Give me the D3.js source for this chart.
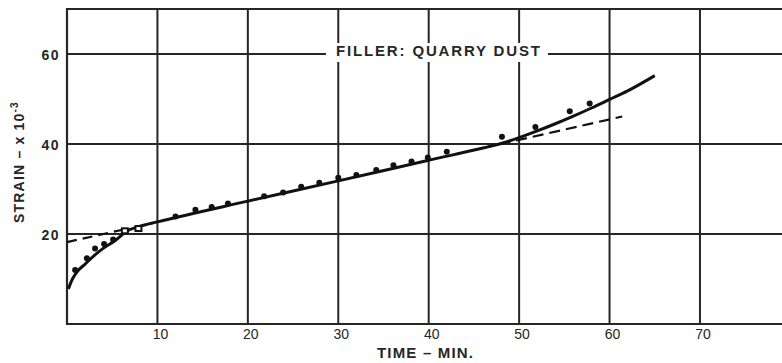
<!DOCTYPE html>
<html>
<head>
<meta charset="utf-8">
<script src="https://cdn.jsdelivr.net/npm/d3@7"></script>
<style>
  body { margin: 0; background: #fff; }
  svg { display: block; font-family: "Liberation Sans", Arial, sans-serif; }
</style>
</head>
<body>
<svg id="chart" width="782" height="363"></svg>
<script>
// values (time in minutes, strain x 10^-3)
var xTicks = [10, 20, 30, 40, 50, 60, 70];
var yTicks = [20, 40, 60];

var dotTime   = [0.9, 2.2, 3.1, 4.1, 5.1, 12, 14.2, 16, 17.8, 21.8, 23.9, 25.9, 27.9, 30, 32, 34.2, 36.1, 38.1, 39.9, 42, 48.1, 51.8, 55.6, 57.8];
var dotStrain = [12.0, 14.6, 16.8, 17.8, 18.8, 23.9, 25.4, 26.0, 26.8, 28.4, 29.2, 30.5, 31.4, 32.5, 33.1, 34.2, 35.3, 36.1, 37.0, 38.3, 41.6, 43.8, 47.3, 49.0];

var squareTime   = [6.4, 7.9];
var squareStrain = [20.6, 21.1];

var curveTime   = [0.15, 0.6, 1.2, 2, 3, 4, 5.3, 6.6, 8, 10, 20, 30, 40, 46, 48, 50, 52, 54, 56, 58, 60, 62, 65];
var curveStrain = [7.8, 10, 11.8, 13.3, 15.2, 16.8, 18.5, 20.6, 21.7, 22.7, 27.3, 31.8, 36.4, 39.1, 40.1, 41.4, 42.9, 44.5, 46.2, 48.0, 49.9, 51.8, 55.2];

var dashTime   = [0, 6.5];
var dashStrain = [18.2, 21.1];
var dash2Time   = [46, 61.4];
var dash2Strain = [39.1, 46.1];

var title = "FILLER: QUARRY DUST";

var svg = d3.select("#chart");
var ink = "#262626";

var x = d3.scaleLinear().domain([0, 80]).range([67, 790.4]);
var y = d3.scaleLinear().domain([0, 70]).range([324, 9]);

// grid
svg.append("g").selectAll("line").data(xTicks).join("line")
    .attr("x1", d => x(d)).attr("x2", d => x(d))
    .attr("y1", y(70)).attr("y2", y(0))
    .attr("stroke", ink).attr("stroke-width", 2);
svg.append("g").selectAll("line").data(yTicks).join("line")
    .attr("x1", x(0)).attr("x2", 782)
    .attr("y1", d => y(d)).attr("y2", d => y(d))
    .attr("stroke", ink).attr("stroke-width", 2);

// frame (top, left, bottom)
svg.append("path")
    .attr("d", "M782," + y(70) + "H" + x(0) + "V" + y(0) + "H782")
    .attr("fill", "none").attr("stroke", ink).attr("stroke-width", 2.2);

// title sitting on the 60 line
svg.append("rect")
    .attr("x", 326).attr("y", y(60) - 11).attr("width", 222).attr("height", 19)
    .attr("fill", "#fff");
svg.append("text")
    .attr("x", 336).attr("y", y(60) + 2)
    .attr("textLength", 204).attr("lengthAdjust", "spacing")
    .attr("font-size", 15).attr("font-weight", "bold").attr("fill", ink)
    .text(title);

// tick labels
svg.append("g").selectAll("text").data(xTicks).join("text")
    .attr("x", d => x(d) + 3).attr("y", 339)
    .attr("text-anchor", "middle").attr("font-size", 14).attr("fill", ink)
    .text(d => d);
svg.append("g").selectAll("text").data(yTicks).join("text")
    .attr("x", 60).attr("y", d => y(d) + 6)
    .attr("text-anchor", "end").attr("font-size", 14).attr("font-weight", "bold").attr("fill", ink)
    .attr("letter-spacing", 1.5)
    .text(d => d);

// axis titles
svg.append("text")
    .attr("x", 377).attr("y", 358)
    .attr("textLength", 96).attr("lengthAdjust", "spacing")
    .attr("font-size", 15).attr("font-weight", "bold").attr("fill", ink)
    .text("TIME \u2013 MIN.");
var yt = svg.append("text")
    .attr("transform", "translate(24,223) rotate(-90)")
    .attr("font-size", 14).attr("font-weight", "bold").attr("fill", ink)
    .attr("letter-spacing", 1.2);
yt.append("tspan").text("STRAIN \u2013 x 10");
yt.append("tspan").attr("dy", -6).attr("font-size", 10).text("-3");

// curves
var line = d3.line().x(d => x(d[0])).y(d => y(d[1]));
var smooth = d3.line().x(d => x(d[0])).y(d => y(d[1])).curve(d3.curveMonotoneX);

svg.append("path")
    .attr("d", smooth(d3.zip(curveTime, curveStrain)))
    .attr("fill", "none").attr("stroke", "#111").attr("stroke-width", 3);

svg.append("path")
    .attr("d", line(d3.zip(dashTime, dashStrain)))
    .attr("fill", "none").attr("stroke", "#111").attr("stroke-width", 2.2)
    .attr("stroke-dasharray", "10,6");
svg.append("path")
    .attr("d", line(d3.zip(dash2Time, dash2Strain)))
    .attr("fill", "none").attr("stroke", "#111").attr("stroke-width", 2.2)
    .attr("stroke-dasharray", "11,6");

// observed points
svg.append("g").selectAll("circle").data(d3.zip(dotTime, dotStrain)).join("circle")
    .attr("cx", d => x(d[0])).attr("cy", d => y(d[1]))
    .attr("r", 3).attr("fill", "#111");
svg.append("g").selectAll("rect").data(d3.zip(squareTime, squareStrain)).join("rect")
    .attr("x", d => x(d[0]) - 3).attr("y", d => y(d[1]) - 3)
    .attr("width", 6).attr("height", 5)
    .attr("fill", "#fff").attr("stroke", "#111").attr("stroke-width", 2);
</script>
</body>
</html>
